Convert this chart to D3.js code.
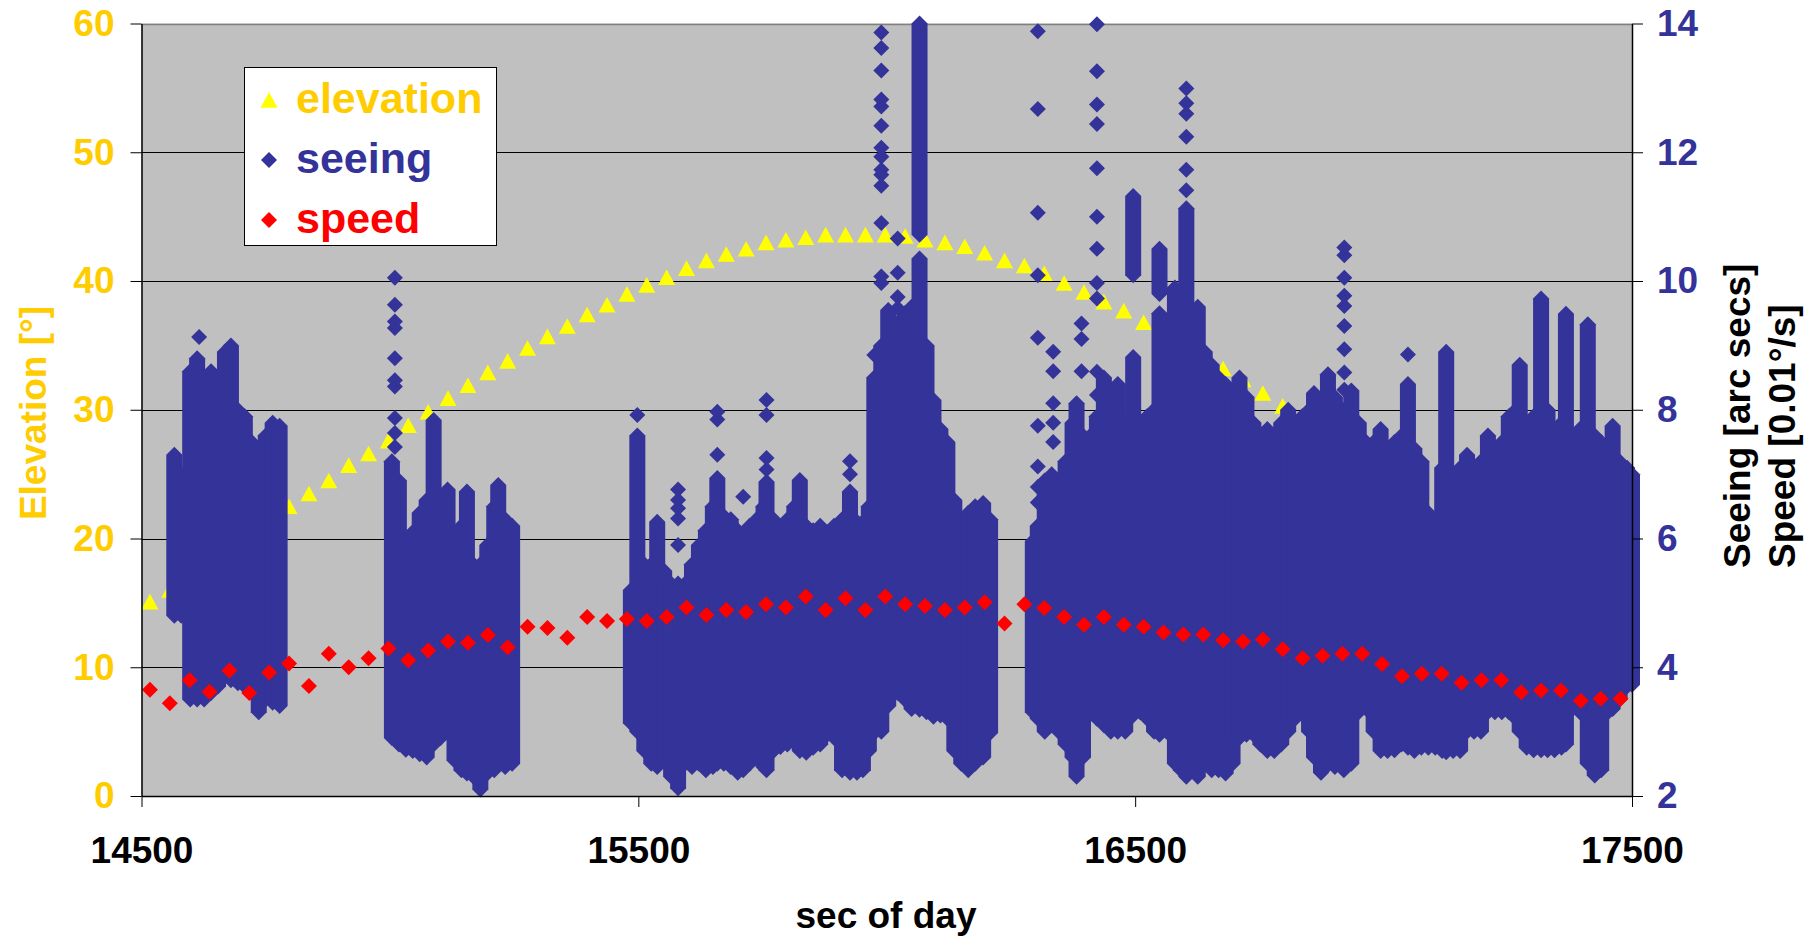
<!DOCTYPE html>
<html lang="en">
<head>
<meta charset="UTF-8">
<title>Elevation, seeing and speed vs. sec of day</title>
<script src="https://d3js.org/d3.v7.min.js"></script>
<style>
  body { margin: 0; background: #fff; }
  svg text { font-family: "Liberation Sans", Arial, sans-serif; font-weight: bold; }
</style>
</head>
<body>
<script>
// ---- data ----
const xTicks = [14500, 15500, 16500, 17500];
const elevTicks = [0, 10, 20, 30, 40, 50, 60];
const seeingTicks = [2, 4, 6, 8, 10, 12, 14];

// elevation and speed share the same sample times (sec of day)
const sampleTime = [
  14517, 14557, 14597, 14637, 14677, 14717, 14757, 14797, 14837, 14877,
  14917, 14957, 14997, 15037, 15077, 15117, 15157, 15197, 15237, 15277,
  15317, 15357, 15397, 15437, 15477, 15517, 15557, 15597, 15637, 15677,
  15717, 15757, 15797, 15837, 15877, 15917, 15957, 15997, 16037, 16077,
  16117, 16157, 16197, 16237, 16277, 16317, 16357, 16397, 16437, 16477,
  16517, 16557, 16597, 16637, 16677, 16717, 16757, 16797, 16837, 16877,
  16917, 16957, 16997, 17037, 17077, 17117, 17157, 17197, 17237, 17277,
  17317, 17357, 17397, 17437, 17477
];
const elevation = [
  15.1, 16.0, 16.9, 18.0, 19.1, 20.3, 21.4, 22.5, 23.5, 24.5,
  25.7, 26.6, 27.6, 28.8, 29.85, 30.9, 31.9, 32.9, 33.8, 34.8,
  35.7, 36.5, 37.4, 38.15, 39.0, 39.7, 40.3, 41.0, 41.6, 42.1,
  42.5, 43.0, 43.2, 43.4, 43.6, 43.6, 43.6, 43.6, 43.5, 43.2,
  43.0, 42.7, 42.2, 41.6, 41.2, 40.6, 39.85, 39.15, 38.4, 37.7,
  36.8, 35.9, 35.1, 34.2, 33.2, 32.35, 31.3, 30.3, 29.3, 28.2,
  27.35, 26.4, 25.5, 24.4, 23.4, 22.4, 21.4, 20.4, 19.4, 18.4,
  17.4, 16.5, 15.5, 14.6, 13.7
];
const speed = [
  3.65, 3.44, 3.80, 3.62, 3.95, 3.60, 3.92, 4.06, 3.71, 4.21,
  4.00, 4.14, 4.29, 4.11, 4.26, 4.40, 4.38, 4.50, 4.31, 4.63,
  4.61, 4.46, 4.78, 4.72, 4.75, 4.72, 4.78, 4.93, 4.81, 4.89,
  4.86, 4.98, 4.93, 5.10, 4.89, 5.07, 4.89, 5.10, 4.98, 4.95,
  4.89, 4.93, 5.01, 4.68, 4.98, 4.92, 4.78, 4.66, 4.78, 4.66,
  4.63, 4.54, 4.51, 4.51, 4.42, 4.40, 4.43, 4.28, 4.14, 4.18,
  4.21, 4.21, 4.05, 3.86, 3.90, 3.90, 3.76, 3.80, 3.80, 3.61,
  3.64, 3.64, 3.48, 3.51, 3.51
];

// seeing: dense stacks of points, [time, lowest, highest]
const seeingRuns = [
  [14566, 4.8, 7.3], [14580, 4.8, 7.0], [14598, 3.5, 8.6], [14612, 3.5, 8.8],
  [14626, 3.5, 8.5], [14640, 3.6, 8.6], [14654, 3.7, 8.4], [14668, 3.85, 8.9],
  [14680, 3.8, 9.0], [14694, 3.75, 8.0], [14708, 3.7, 7.9], [14722, 3.6, 7.5],
  [14736, 3.3, 7.4], [14750, 3.5, 7.6], [14764, 3.45, 7.8], [14778, 3.4, 7.75],

  [15004, 2.9, 7.2], [15018, 2.8, 6.9], [15032, 2.72, 5.9], [15046, 2.7, 6.1],
  [15060, 2.65, 6.4], [15074, 2.6, 6.6], [15088, 2.8, 7.84], [15102, 2.9, 6.5],
  [15116, 3.0, 6.76], [15130, 2.55, 6.0], [15144, 2.4, 6.2], [15155, 2.35, 6.73],
  [15168, 2.3, 5.6], [15182, 2.1, 5.6], [15196, 2.35, 5.9], [15210, 2.4, 6.5],
  [15218, 2.5, 6.83], [15232, 2.45, 6.3], [15246, 2.5, 6.2],

  [15485, 3.13, 5.2], [15498, 3.0, 7.6], [15512, 2.7, 5.6], [15526, 2.5, 5.6],
  [15538, 2.45, 6.26], [15552, 2.6, 5.5], [15566, 2.3, 5.3], [15580, 2.12, 5.3],
  [15594, 2.5, 5.3], [15608, 2.45, 5.6], [15622, 2.5, 5.9], [15636, 2.4, 6.13],
  [15650, 2.45, 6.5], [15659, 2.5, 6.94], [15672, 2.5, 6.35], [15686, 2.45, 6.3],
  [15700, 2.36, 6.13], [15711, 2.4, 6.0], [15724, 2.5, 6.2], [15738, 2.6, 6.3],
  [15752, 2.45, 6.5], [15758, 2.4, 6.88], [15772, 2.7, 6.3], [15786, 2.76, 6.0],
  [15800, 2.8, 6.3], [15814, 2.9, 6.5], [15825, 2.7, 6.91], [15838, 2.67, 6.2],
  [15852, 2.75, 6.13], [15866, 2.8, 6.2], [15880, 2.95, 6.1], [15894, 2.9, 6.2],
  [15910, 2.4, 6.3], [15926, 2.36, 6.73], [15940, 2.36, 6.26], [15952, 2.4, 6.26],
  [15964, 2.7, 6.5], [15975, 2.98, 8.5], [15989, 3.0, 9.0], [16003, 3.4, 9.55],
  [16022, 3.6, 9.2], [16036, 3.5, 9.5], [16050, 3.35, 9.6], [16066, 3.34, 10.35],
  [16066, 10.72, 14.0], [16080, 3.3, 9.0], [16094, 3.23, 8.15], [16108, 3.25, 7.7],
  [16122, 3.2, 7.5], [16136, 2.7, 6.6], [16150, 2.5, 6.2], [16164, 2.4, 6.4],
  [16178, 2.5, 6.5], [16194, 2.6, 6.55], [16208, 2.98, 6.3],

  [16294, 3.3, 5.96], [16304, 3.2, 6.2], [16318, 3.0, 6.9], [16332, 3.1, 7.0],
  [16346, 3.0, 6.8], [16360, 2.8, 7.2], [16374, 2.6, 7.8], [16382, 2.3, 8.1],
  [16395, 2.6, 7.6], [16410, 3.27, 7.6], [16423, 3.2, 7.9], [16437, 3.1, 8.5],
  [16451, 3.0, 7.6], [16465, 3.0, 8.4], [16480, 3.0, 7.8], [16496, 3.25, 8.82],
  [16496, 10.09, 11.32], [16510, 3.3, 7.8], [16524, 3.2, 7.9], [16538, 3.0, 8.0],
  [16549, 2.95, 9.5], [16549, 9.8, 10.5], [16563, 3.0, 8.0], [16580, 2.5, 9.9],
  [16592, 2.4, 8.8], [16603, 2.3, 11.13], [16616, 2.4, 9.0], [16626, 2.3, 9.6],
  [16640, 2.5, 8.9], [16654, 2.4, 8.7], [16668, 2.4, 8.5], [16682, 2.35, 8.4],
  [16696, 2.5, 8.2], [16710, 2.9, 8.5], [16724, 2.95, 8.2], [16738, 2.95, 7.8],
  [16752, 2.8, 7.6], [16766, 2.7, 7.7], [16780, 2.7, 7.55], [16794, 2.8, 7.8],
  [16808, 3.0, 8.0], [16822, 3.2, 7.7], [16836, 3.3, 7.9], [16850, 3.0, 8.0],
  [16860, 2.6, 8.26], [16874, 2.36, 7.9], [16888, 2.48, 8.55], [16902, 2.45, 8.2],
  [16920, 2.4, 8.0], [16935, 2.5, 8.3], [16950, 3.3, 7.8], [16965, 3.35, 7.5],
  [16980, 3.0, 7.5], [16994, 2.7, 7.7], [17008, 2.7, 7.4], [17022, 2.71, 7.5],
  [17036, 2.8, 7.6], [17049, 2.75, 8.4], [17062, 2.7, 7.4], [17076, 2.75, 7.2],
  [17090, 2.75, 6.4], [17104, 2.75, 6.3], [17118, 2.7, 7.1], [17126, 2.68, 8.9],
  [17140, 2.7, 6.9], [17154, 2.7, 7.1], [17168, 3.0, 7.3], [17182, 3.0, 7.0],
  [17196, 3.0, 7.2], [17210, 3.3, 7.6], [17224, 3.3, 7.3], [17238, 3.3, 7.5],
  [17252, 3.3, 7.9], [17266, 3.2, 8.0], [17274, 3.0, 8.7], [17288, 2.75, 7.8],
  [17302, 2.71, 7.9], [17317, 2.71, 9.73], [17330, 2.71, 8.0], [17344, 2.71, 7.6],
  [17358, 2.75, 7.8], [17367, 2.8, 9.49], [17380, 3.35, 7.6], [17395, 3.3, 7.7],
  [17411, 2.5, 9.33], [17425, 2.32, 7.6], [17438, 2.4, 7.5], [17452, 3.3, 7.3],
  [17461, 3.35, 7.75], [17475, 3.5, 7.2], [17490, 3.7, 7.1], [17500, 3.73, 7.0]
];

// seeing: lone points above the stacks, [time, value]
const seeingDots = [
  [14616, 9.13],
  [15010, 7.42], [15010, 7.64], [15010, 7.87], [15010, 8.36], [15010, 8.46],
  [15010, 8.8], [15010, 9.27], [15010, 9.37], [15010, 9.63], [15010, 10.05],
  [15498, 7.92], [15580, 5.9], [15580, 6.31], [15580, 6.47], [15580, 6.6], [15580, 6.76],
  [15659, 7.3], [15659, 7.85], [15659, 7.97], [15711, 6.65],
  [15758, 7.07], [15758, 7.25], [15758, 7.92], [15758, 8.15],
  [15926, 7.0], [15926, 7.2], [15975, 8.85],
  [15989, 9.97], [15989, 10.07], [15989, 10.9], [15989, 11.48], [15989, 11.65],
  [15989, 11.73], [15989, 11.93], [15989, 12.07], [15989, 12.41], [15989, 12.71],
  [15989, 12.82], [15989, 13.27], [15989, 13.62], [15989, 13.86],
  [16022, 9.35], [16022, 9.58], [16022, 9.75], [16022, 10.13], [16022, 10.66],
  [16304, 6.56], [16304, 6.8], [16304, 7.12], [16304, 7.75], [16304, 9.12],
  [16304, 10.09], [16304, 11.06], [16304, 12.67], [16304, 13.88],
  [16335, 7.5], [16335, 7.8], [16335, 8.1], [16335, 8.6], [16335, 8.9],
  [16392, 8.6], [16392, 9.1], [16392, 9.34],
  [16423, 8.23], [16423, 8.59], [16423, 9.73], [16423, 9.97], [16423, 10.5],
  [16423, 11.0], [16423, 11.75], [16423, 12.44], [16423, 12.74], [16423, 13.26], [16423, 13.99],
  [16603, 11.41], [16603, 11.73], [16603, 12.24], [16603, 12.6], [16603, 12.76], [16603, 12.99],
  [16921, 8.31], [16921, 8.58], [16921, 8.94], [16921, 9.3], [16921, 9.61],
  [16921, 9.77], [16921, 10.05], [16921, 10.4], [16921, 10.52],
  [17049, 8.86]
];

// ---- drawing ----
const width = 1819;
const height = 940;
const plotLeft = 141.5, plotRight = 1632, plotTop = 23.5, plotBottom = 796;

const gold = "#ffcc00";
const navy = "#333399";

const x = d3.scaleLinear().domain([14500, 17500]).range([plotLeft, plotRight]);
const yElev = d3.scaleLinear().domain([0, 60]).range([plotBottom, plotTop]);
const ySee = d3.scaleLinear().domain([2, 14]).range([plotBottom, plotTop]);

const svg = d3.select("body").append("svg")
  .attr("width", width)
  .attr("height", height);

svg.append("rect")
  .attr("x", plotLeft).attr("y", plotTop)
  .attr("width", plotRight - plotLeft).attr("height", plotBottom - plotTop)
  .attr("fill", "#c0c0c0");

// gridlines (top one is the grey frame)
svg.append("g").selectAll("line")
  .data(elevTicks.slice(1))
  .join("line")
  .attr("x1", plotLeft).attr("x2", plotRight)
  .attr("y1", d => Math.round(yElev(d)) + 0.5)
  .attr("y2", d => Math.round(yElev(d)) + 0.5)
  .attr("stroke", d => d === 60 ? "#808080" : "#000")
  .attr("stroke-width", d => d === 60 ? 1.5 : 1);

const r = 8;
const stack = (cx, yHi, yLo) =>
  `M${cx},${yHi - r}L${cx + r},${yHi}L${cx + r},${yLo}L${cx},${yLo + r}L${cx - r},${yLo}L${cx - r},${yHi}Z`;
const triangle = (cx, cy) =>
  `M${cx},${cy - 7.8}L${cx + 8.5},${cy + 7.8}L${cx - 8.5},${cy + 7.8}Z`;

// elevation (drawn underneath)
svg.append("g").selectAll("path")
  .data(sampleTime)
  .join("path")
  .attr("d", (t, i) => triangle(x(t), yElev(elevation[i])))
  .attr("fill", "#ffff00");

// seeing
const seeG = svg.append("g").attr("fill", navy);
seeG.selectAll("path.run")
  .data(seeingRuns)
  .join("path")
  .attr("class", "run")
  .attr("d", d => stack(x(d[0]), ySee(d[2]), ySee(d[1])));
seeG.selectAll("path.dot")
  .data(seeingDots)
  .join("path")
  .attr("class", "dot")
  .attr("d", d => stack(x(d[0]), ySee(d[1]), ySee(d[1])));

// speed (on top)
svg.append("g").selectAll("path")
  .data(sampleTime)
  .join("path")
  .attr("d", (t, i) => stack(x(t), ySee(speed[i]), ySee(speed[i])))
  .attr("fill", "#ff0000");

// axes
const leftAxis = svg.append("g")
  .attr("transform", `translate(${plotLeft},0)`)
  .call(d3.axisLeft(yElev).tickValues(elevTicks).tickSize(11).tickSizeOuter(0).tickPadding(16));
leftAxis.selectAll("text").attr("fill", gold).style("font-size", "37px");

const rightAxis = svg.append("g")
  .attr("transform", `translate(${plotRight},0)`)
  .call(d3.axisRight(ySee).tickValues(seeingTicks).tickSize(11).tickSizeOuter(0).tickPadding(14));
rightAxis.selectAll("text").attr("fill", navy).style("font-size", "37px");

const bottomAxis = svg.append("g")
  .attr("transform", `translate(0,${plotBottom})`)
  .call(d3.axisBottom(x).tickValues(xTicks).tickFormat(d3.format("d")).tickSize(11).tickSizeOuter(0).tickPadding(30));
bottomAxis.selectAll("text").attr("fill", "#000").style("font-size", "37px");

[leftAxis, rightAxis, bottomAxis].forEach(g => {
  g.selectAll("path.domain").attr("stroke", "#000").attr("stroke-width", 1.5);
  g.selectAll(".tick line").attr("stroke", "#000");
});

// axis titles
svg.append("text")
  .attr("transform", "translate(46,413) rotate(-90)")
  .attr("text-anchor", "middle")
  .attr("fill", gold)
  .style("font-size", "37px")
  .text("Elevation [°]");

svg.append("text")
  .attr("transform", "translate(1750,568) rotate(-90)")
  .attr("fill", "#000")
  .style("font-size", "37px")
  .text("Seeing [arc secs]");

svg.append("text")
  .attr("transform", "translate(1795,568) rotate(-90)")
  .attr("fill", "#000")
  .style("font-size", "37px")
  .text("Speed [0.01°/s]");

svg.append("text")
  .attr("x", 886).attr("y", 928)
  .attr("text-anchor", "middle")
  .attr("fill", "#000")
  .style("font-size", "37px")
  .text("sec of day");

// legend
const legend = svg.append("g");
legend.append("rect")
  .attr("x", 244.5).attr("y", 67.5)
  .attr("width", 252).attr("height", 178)
  .attr("fill", "#fff")
  .attr("stroke", "#000");

const legendItems = [
  {name: "elevation", color: gold, mark: "#ffff00", shape: "triangle"},
  {name: "seeing", color: navy, mark: navy, shape: "diamond"},
  {name: "speed", color: "#ff0000", mark: "#ff0000", shape: "diamond"}
];
legend.selectAll("path")
  .data(legendItems)
  .join("path")
  .attr("d", (d, i) => d.shape === "triangle" ? triangle(269, 100 + i * 60) : stack(269, 100 + i * 60, 100 + i * 60))
  .attr("fill", d => d.mark);
legend.selectAll("text")
  .data(legendItems)
  .join("text")
  .attr("x", 296)
  .attr("y", (d, i) => 113 + i * 60)
  .attr("fill", d => d.color)
  .style("font-size", "43px")
  .text(d => d.name);
</script>
</body>
</html>
